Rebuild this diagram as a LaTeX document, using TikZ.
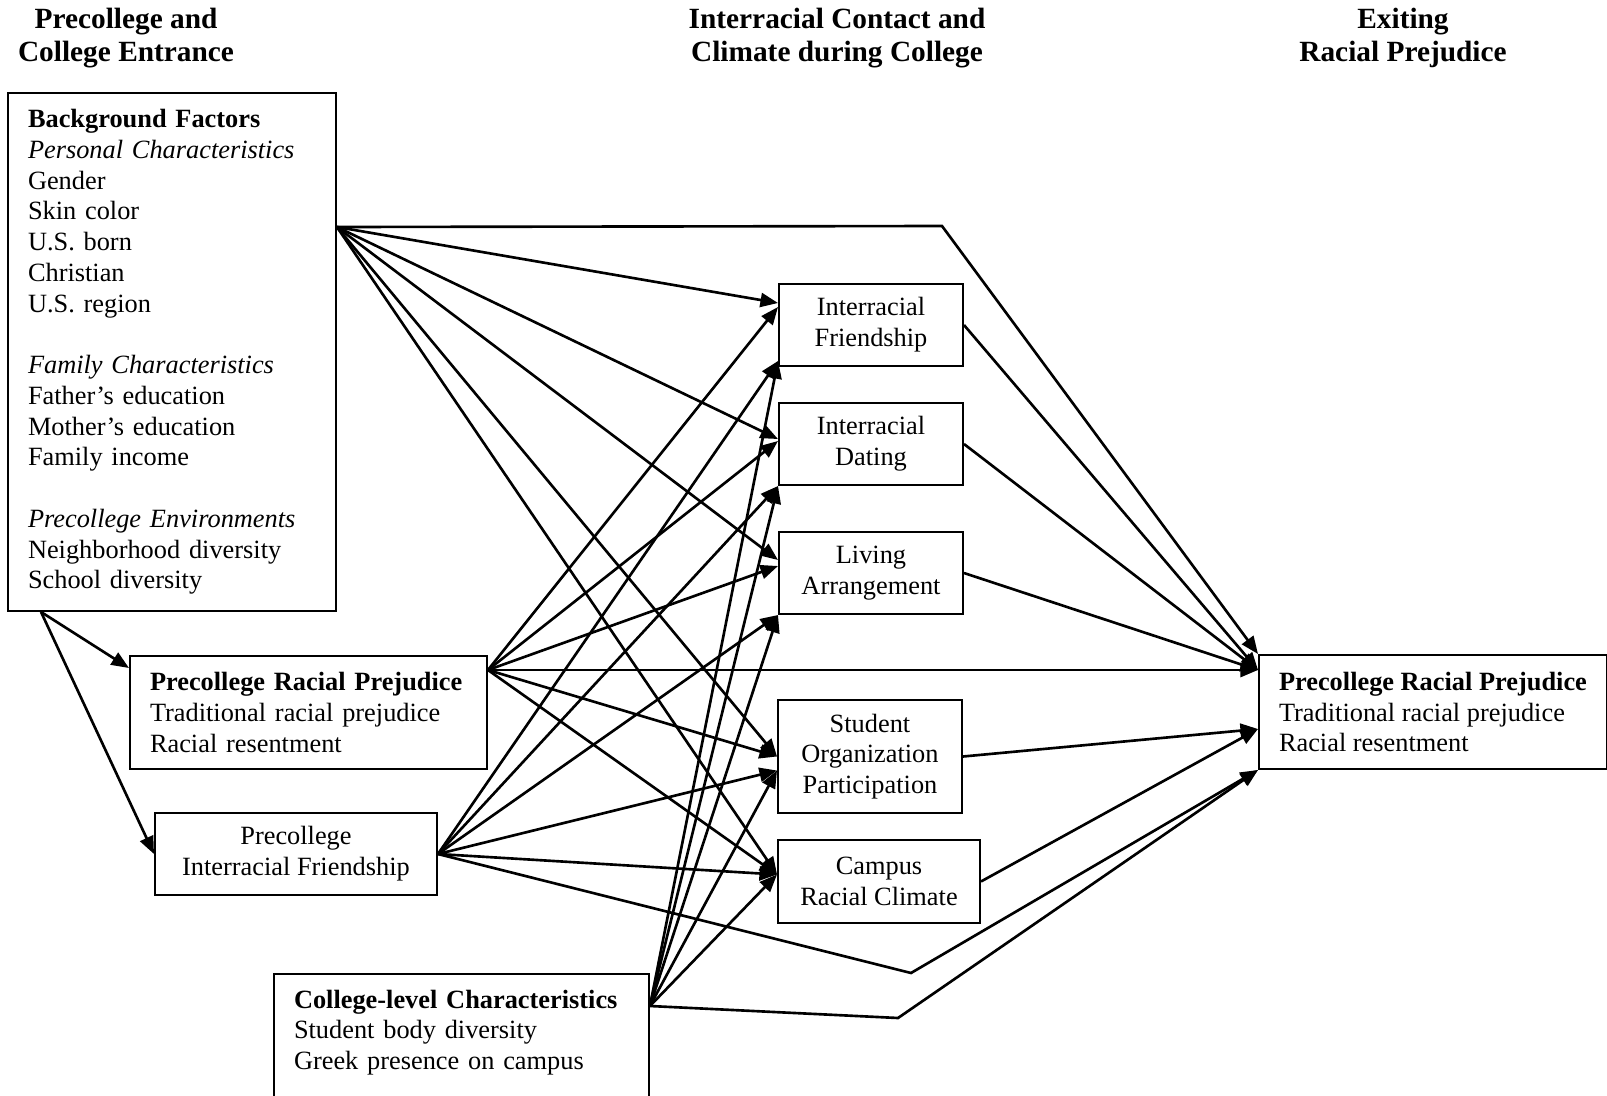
\documentclass[tikz,border=0pt]{standalone}
\usepackage{fontspec}
\setmainfont{Liberation Serif}
\usetikzlibrary{arrows.meta, calc}

\begin{document}
\begin{tikzpicture}[x=0.02cm, y=-0.02cm, font=\fontsize{15}{17.5}\selectfont,
    >={Triangle[length=10pt, width=8pt]},
    box/.style={draw, line width=1.15pt, anchor=north west, inner sep=0pt},
    cbox/.style={box, align=center, minimum width=3.68cm, minimum height=1.64cm},
    lbox/.style={box, align=left, inner xsep=4mm},
    head/.style={font=\fontsize{16.7}{18.7}\selectfont\bfseries, align=center},
    link/.style={->, line width=1.5pt}]
  \useasboundingbox (0,0) rectangle (1607,1096);
  \node[head] (hpre) at (126,38) {Precollege and\\College Entrance};
  \node[head] (hmid) at (837,38) {Interracial Contact and\\Climate during College};
  \node[head] (hexit) at (1403,38) {Exiting\\Racial Prejudice};
  \node[lbox, text width=5.76cm, minimum height=10.36cm] (bg) at (7,92) {\textbf{Background Factors}\\
    \textit{Personal Characteristics}\\ Gender\\ Skin color\\ U.S. born\\ Christian\\ U.S. region\\[17.5pt]
    \textit{Family Characteristics}\\ Father’s education\\ Mother’s education\\ Family income\\[17.5pt]
    \textit{Precollege Environments}\\ Neighborhood diversity\\ School diversity};
  \node[lbox, text width=6.34cm, minimum height=2.26cm] (prp) at (129,655) {\textbf{Precollege Racial Prejudice}\\
    Traditional racial prejudice\\ Racial resentment};
  \node[cbox, minimum width=5.64cm] (pif) at (154,812) {Precollege\\Interracial Friendship};
  \node[lbox, text width=6.7cm, inner ysep=9pt] (cl) at (273,973) {\textbf{College-level Characteristics}\\
    Student body diversity\\ Greek presence on campus\rule[-3cm]{0pt}{0pt}};
  \node[cbox] (IF) at (778,283) {Interracial\\Friendship};
  \node[cbox] (ID) at (778,402) {Interracial\\Dating};
  \node[cbox] (LA) at (778,531) {Living\\Arrangement};
  \node[cbox, minimum height=2.26cm] (SO) at (777,699) {Student\\Organization\\Participation};
  \node[cbox, minimum width=4.04cm, minimum height=1.66cm] (CRC) at (777,839) {Campus\\Racial Climate};
  \node[lbox, minimum width=6.94cm, minimum height=2.28cm] (exit) at (1258,654) {\textbf{Precollege Racial Prejudice}\\
    Traditional racial prejudice\\ Racial resentment};
  \coordinate (bgout) at ($(bg.north east)+(0,135)$);
  \coordinate (bgdown) at ($(bg.south west)+(34,0)$);
  \coordinate (prpout) at ($(prp.north east)+(0,15)$);
  \coordinate (clout) at ($(cl.north east)+(0,33)$);
  \coordinate (bgbend) at (942,226);
  \coordinate (pifbend) at (911,973);
  \coordinate (clbend) at (898,1018);
  \draw[link] (bgdown) -- ($(prp.north west)+(0,13)$);
  \draw[link] (bgdown) -- (pif.west);
  \draw[link] (bgout) -- (bgbend) -- (exit.north west);
  \draw[link] (bgout) -- ($(IF.north west)+(0,20)$);
  \draw[link] (bgout) -- ($(ID.west)+(0,-5)$);
  \draw[link] (bgout) -- ($(LA.west)+(0,-13)$);
  \draw[link] (bgout) -- (SO.west);
  \draw[link] (bgout) -- ($(CRC.west)+(0,-7)$);
  \draw[link] (prpout) -- ($(IF.north west)+(0,24)$);
  \draw[link] (prpout) -- ($(ID.west)+(0,-3)$);
  \draw[link] (prpout) -- ($(LA.west)+(0,-7)$);
  \draw[link] (prpout) -- (SO.west);
  \draw[link] (prpout) -- ($(CRC.west)+(0,-7)$);
  \draw[link] (prpout) -- ($(exit.north west)+(0,16)$);
  \draw[link] (pif.east) -- ($(IF.south west)+(0,-6)$);
  \draw[link] (pif.east) -- (ID.south west);
  \draw[link] (pif.east) -- (LA.south west);
  \draw[link] (pif.east) -- ($(SO.west)+(0,14)$);
  \draw[link] (pif.east) -- ($(CRC.west)+(0,-7)$);
  \draw[link] (pif.east) -- (pifbend) -- (exit.south west);
  \draw[link] (clout) -- ($(IF.south west)+(0,-6)$);
  \draw[link] (clout) -- (ID.south west);
  \draw[link] (clout) -- (LA.south west);
  \draw[link] (clout) -- ($(SO.west)+(0,14)$);
  \draw[link] (clout) -- ($(CRC.west)+(0,-7)$);
  \draw[link] (clout) -- (clbend) -- (exit.south west);
  \draw[link] (IF.east) -- ($(exit.north west)+(0,16)$);
  \draw[link] (ID.east) -- ($(exit.north west)+(0,16)$);
  \draw[link] (LA.east) -- ($(exit.north west)+(0,16)$);
  \draw[link] (SO.east) -- ($(exit.west)+(0,17)$);
  \draw[link] (CRC.east) -- ($(exit.west)+(0,17)$);
\end{tikzpicture}
\end{document}
